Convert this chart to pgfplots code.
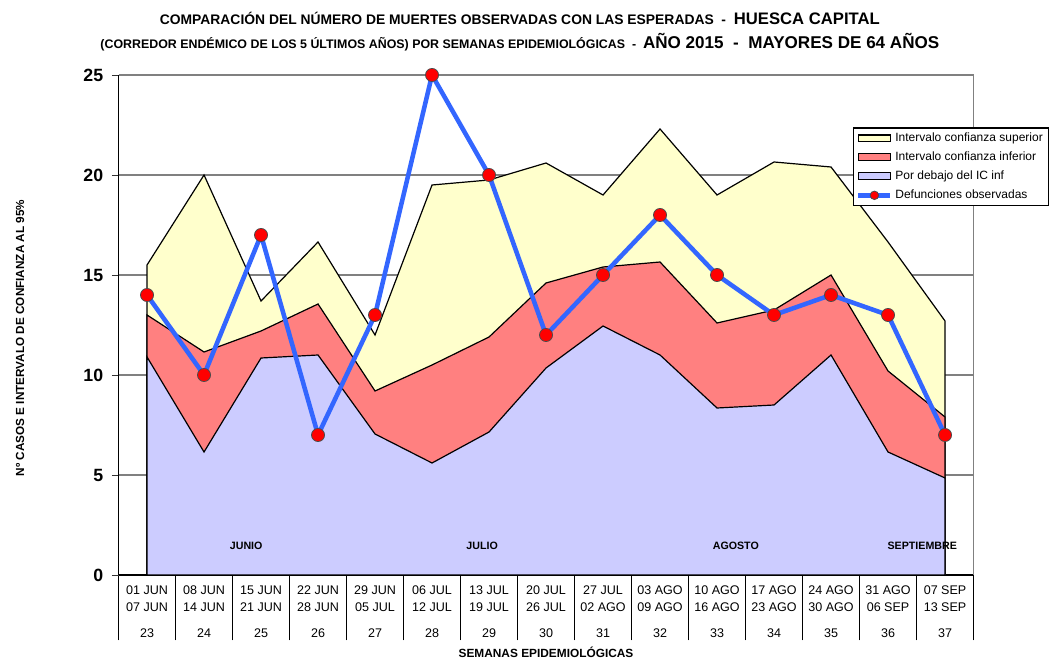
\documentclass[border=0pt]{standalone}
\usepackage{fontspec}
\setmainfont{Liberation Sans}
\setsansfont{Liberation Sans}
\usepackage{pgfplots}
\usepackage{pgfplotstable}
\pgfplotsset{compat=1.18}

\definecolor{supcol}{HTML}{FFFFCC}
\definecolor{infcol}{HTML}{FF8080}
\definecolor{bajocol}{HTML}{CCCCFF}
\definecolor{obscol}{HTML}{3366FF}

% semanas 23..37, posiciones 0..14
\pgfplotstableread{
x sup inf bajo obs
0 15.5 13.0 10.9 14
1 20.0 11.15 6.15 10
2 13.7 12.2 10.85 17
3 16.65 13.55 11.0 7
4 12.0 9.2 7.05 13
5 19.5 10.5 5.6 25
6 19.75 11.9 7.15 20
7 20.6 14.6 10.35 12
8 19.0 15.4 12.45 15
9 22.3 15.65 11.0 18
10 19.0 12.6 8.35 15
11 20.65 13.25 8.5 13
12 20.4 15.0 11.0 14
13 16.65 10.2 6.15 13
14 12.7 7.9 4.85 7
}\datos

\pgfplotsset{
  areaimg/.style={legend image code/.code={\draw[##1,line width=0.8pt] (0pt,-2.6pt) rectangle (24pt,2.6pt);}},
  lineimg/.style={legend image code/.code={\draw[mark repeat=2,mark phase=2,##1,mark size=3.2pt] plot coordinates {(0pt,0pt) (12pt,0pt) (24pt,0pt)};}},
}

\begin{document}
\begin{tikzpicture}
\useasboundingbox (-88.9pt,-63.75pt) rectangle (698.6pt,431.25pt);
\begin{axis}[
  at={(0pt,0pt)}, anchor=south west,
  scale only axis, width=641.25pt, height=375pt,
  xmin=-0.5, xmax=14.5, ymin=0, ymax=25,
  clip=false,
  axis lines*=left, axis line style={-, black, line width=0.8pt},
  ytick={0,5,...,25},
  ymajorgrids, grid style={gray, line width=0.8pt},
  xtick={0,...,14},
  minor xtick={-0.5,0.5,...,14.5},
  tick align=outside,
  major tick length=5pt,
  minor tick length=49pt,
  major x tick style={draw=none},
  minor x tick style={black, line width=0.6pt},
  y tick style={black!80, line width=0.6pt},
  xticklabels={
    {01 JUN\\07 JUN\\[6.75pt]23},
    {08 JUN\\14 JUN\\[6.75pt]24},
    {15 JUN\\21 JUN\\[6.75pt]25},
    {22 JUN\\28 JUN\\[6.75pt]26},
    {29 JUN\\05 JUL\\[6.75pt]27},
    {06 JUL\\12 JUL\\[6.75pt]28},
    {13 JUL\\19 JUL\\[6.75pt]29},
    {20 JUL\\26 JUL\\[6.75pt]30},
    {27 JUL\\02 AGO\\[6.75pt]31},
    {03 AGO\\09 AGO\\[6.75pt]32},
    {10 AGO\\16 AGO\\[6.75pt]33},
    {17 AGO\\23 AGO\\[6.75pt]34},
    {24 AGO\\30 AGO\\[6.75pt]35},
    {31 AGO\\06 SEP\\[6.75pt]36},
    {07 SEP\\13 SEP\\[6.75pt]37}},
  xticklabel style={align=center, font=\fontsize{9.4}{12.75}\selectfont, inner sep=0pt, yshift=-3pt},
  yticklabel style={font=\bfseries\fontsize{13.3}{14}\selectfont, xshift=-3pt},
  /pgf/number format/assume math mode=true,
  legend cell align=left,
  legend style={at={(0.859,0.895)}, anchor=north west, draw=black, line width=0.8pt,
    fill=white, font=\fontsize{9}{10}\selectfont, inner xsep=2pt, inner ysep=1.8pt, row sep=2.2pt},
]
\addplot[draw=black, line width=0.9pt, fill=supcol, areaimg] table[x=x,y=sup]{\datos} \closedcycle;
\addlegendentry{Intervalo confianza superior}
\addplot[draw=black, line width=0.9pt, fill=infcol, areaimg] table[x=x,y=inf]{\datos} \closedcycle;
\addlegendentry{Intervalo confianza inferior}
\addplot[draw=black, line width=0.9pt, fill=bajocol, areaimg] table[x=x,y=bajo]{\datos} \closedcycle;
\addlegendentry{Por debajo del IC inf}
\addplot[obscol, line width=3.4pt, mark=*, mark size=4.9pt, lineimg,
  mark options={fill=red, draw=black!70, line width=0.6pt}] table[x=x,y=obs]{\datos};
\addlegendentry{Defunciones observadas}

\draw[gray, line width=0.8pt] (rel axis cs:1,0) -- (rel axis cs:1,1);
\begin{scope}[every node/.style={font=\bfseries\fontsize{8}{9}\selectfont}]
\node at (axis cs:1.74,1.45) {JUNIO};
\node at (axis cs:5.88,1.45) {JULIO};
\node at (axis cs:10.33,1.45) {AGOSTO};
\node at (axis cs:13.6,1.45) {SEPTIEMBRE};
\end{scope}
\end{axis}

\node[anchor=base, font=\bfseries] at (301pt,412.5pt)
  {{\fontsize{10.4}{12}\selectfont COMPARACIÓN DEL NÚMERO DE MUERTES OBSERVADAS CON LAS ESPERADAS\ \ -\ \ }{\fontsize{12.5}{14}\selectfont HUESCA CAPITAL}};
\node[anchor=base, font=\bfseries] at (301pt,394.5pt)
  {{\fontsize{9.3}{11}\selectfont (CORREDOR ENDÉMICO DE LOS 5 ÚLTIMOS AÑOS) POR SEMANAS EPIDEMIOLÓGICAS\ \ -\ \ }{\fontsize{12.8}{14}\selectfont AÑO 2015\ \ -\ \ MAYORES DE 64 AÑOS}};
\node[rotate=90, font=\bfseries\fontsize{8.8}{10}\selectfont] at (-73.9pt,177.75pt)
  {Nº CASOS E INTERVALO DE CONFIANZA AL 95\%};
\node[font=\bfseries\fontsize{8.9}{10}\selectfont] at (320.6pt,-58.2pt) {SEMANAS EPIDEMIOLÓGICAS};
\end{tikzpicture}
\end{document}
